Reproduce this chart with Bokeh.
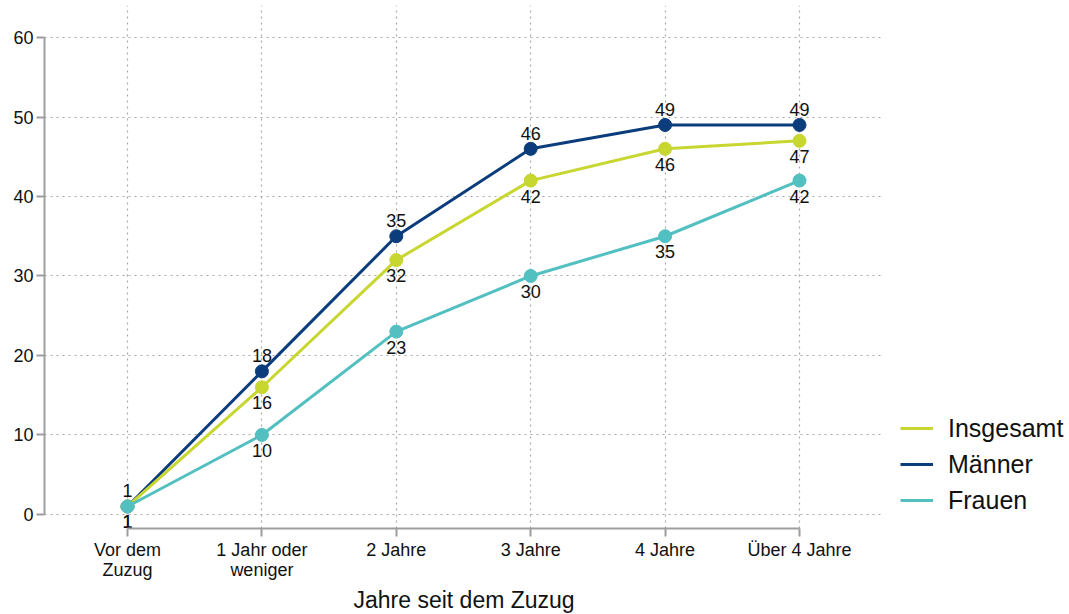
from bokeh.plotting import figure
from bokeh.models import ColumnDataSource, FixedTicker, Legend, LegendItem, Range1d, BoxAnnotation, Title
from bokeh.core.properties import value
from bokeh.embed import file_html
from bokeh.resources import INLINE

categories = ["Vor dem\nZuzug", "1 Jahr oder\nweniger", "2 Jahre", "3 Jahre", "4 Jahre", "Über 4 Jahre"]
series_names = ["Insgesamt", "Männer", "Frauen"]
insgesamt = [1, 16, 32, 42, 46, 47]
maenner = [1, 18, 35, 46, 49, 49]
frauen = [1, 10, 23, 30, 35, 42]
y_ticks = [0, 10, 20, 30, 40, 50, 60]
x_title = "Jahre seit dem Zuzug"

colors = {"Insgesamt": "#c8d630", "Männer": "#0b3c7c", "Frauen": "#52bfc0"}
FONT = "Liberation Sans"

x_pos = list(range(len(categories)))

p = figure(width=1069, height=614, output_backend="svg", toolbar_location=None,
           x_range=Range1d(-0.6176, 7.009), y_range=Range1d(-1.77, 64.03),
           min_border_left=44, min_border_right=0, min_border_top=5, min_border_bottom=0)
p.outline_line_color = None
p.background_fill_color = "white"
p.border_fill_color = "white"

# axes
p.xaxis.ticker = FixedTicker(ticks=x_pos)
p.xaxis.major_label_overrides = {i: c for i, c in enumerate(categories)}
p.xaxis.bounds = (0, len(categories) - 1)
p.yaxis.ticker = FixedTicker(ticks=y_ticks)
p.yaxis.bounds = (y_ticks[0], y_ticks[-1])
for ax in (p.xaxis[0], p.yaxis[0]):
    ax.axis_line_color = "#9e9e9e"
    ax.axis_line_width = 2
    ax.major_tick_line_color = "#9e9e9e"
    ax.major_tick_line_width = 2
    ax.major_tick_in = 0
    ax.minor_tick_line_color = None
    ax.major_label_text_font = FONT
    ax.major_label_text_font_size = "18px"
    ax.major_label_text_color = "#111111"
p.yaxis.major_tick_out = 8
p.yaxis.major_label_standoff = 3
p.xaxis.major_tick_out = 8
p.xaxis.major_label_standoff = 3
p.xaxis.major_label_text_line_height = 1.0

# x-axis title, centred under the plotting region (not under the legend area)
xt = Title(text=x_title, align="left", offset=309, standoff=4,
           text_font=FONT, text_font_size="23px", text_font_style="normal",
           text_color="#111111")
p.add_layout(xt, "below")

# grid
p.xgrid.ticker = FixedTicker(ticks=x_pos)
p.ygrid.ticker = FixedTicker(ticks=y_ticks)
for g in (p.xgrid[0], p.ygrid[0]):
    g.grid_line_color = "#a8a8a8"
    g.grid_line_dash = "2 4"
    g.grid_line_width = 1.2

# blank the area to the right of the plot region (space for the legend)
p.add_layout(BoxAnnotation(left=5.625, fill_color="white", fill_alpha=1.0,
                           line_color=None, level="underlay"))

data = {"Insgesamt": insgesamt, "Männer": maenner, "Frauen": frauen}
label_pos = {"Insgesamt": "below", "Männer": "above", "Frauen": "below"}

renderers = {}
for name in ["Männer", "Insgesamt", "Frauen"]:
    vals = data[name]
    src = ColumnDataSource(dict(x=x_pos, y=vals, lab=[str(v) for v in vals]))
    ln = p.line("x", "y", source=src, line_color=colors[name], line_width=3)
    p.scatter("x", "y", source=src, size=13, fill_color=colors[name], line_color=colors[name])
    renderers[name] = ln

for name in ["Männer", "Insgesamt", "Frauen"]:
    vals = data[name]
    src = ColumnDataSource(dict(x=x_pos, y=vals, lab=[str(v) for v in vals]))
    if label_pos[name] == "above":
        p.text("x", "y", text="lab", source=src, text_align="center", text_baseline="bottom",
               y_offset=-9, text_font=value(FONT), text_font_size="18px", text_color="#111111")
    else:
        p.text("x", "y", text="lab", source=src, text_align="center", text_baseline="top",
               y_offset=9, text_font=value(FONT), text_font_size="18px", text_color="#111111")

legend = Legend(items=[LegendItem(label=n, renderers=[renderers[n]]) for n in series_names],
                location=(856, 13), orientation="vertical")
legend.border_line_color = None
legend.background_fill_alpha = 0
legend.padding = 0
legend.margin = 0
legend.spacing = 6
legend.glyph_width = 33
legend.glyph_height = 30
legend.label_height = 30
legend.label_standoff = 15
legend.label_text_font = FONT
legend.label_text_font_size = "25px"
legend.label_text_color = "#111111"
legend.label_text_baseline = "middle"
p.add_layout(legend)

open("out.html", "w").write(file_html(p, INLINE))
